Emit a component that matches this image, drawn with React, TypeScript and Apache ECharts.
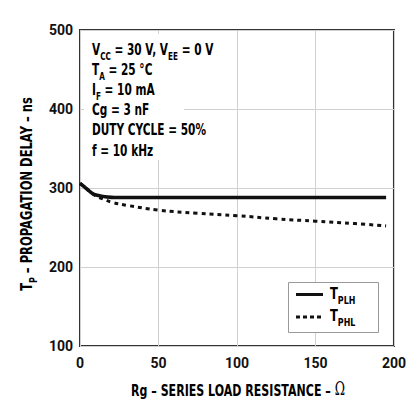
import React, { useEffect, useRef } from "react";
import * as echarts from "echarts";

const xTicks = [0, 50, 100, 150, 200];
const yTicks = [100, 200, 300, 400, 500];
const tplh: [number, number][] = [
  [0, 306], [3, 301], [6, 296], [9, 292], [13, 290], [16, 289], [22, 288], [60, 288], [120, 288], [195, 288],
];
const tphl: [number, number][] = [
  [0, 306], [3, 301], [6, 296], [10, 290], [15, 286], [20, 282], [30, 278], [50, 272], [75, 268],
  [100, 265], [125, 261], [150, 258], [175, 255], [195, 252],
];
const seriesNames = ["TPLH", "TPHL"];

const FONT = "'DejaVu Sans', 'Roboto', sans-serif";
const AXFONT = "Roboto, 'Liberation Sans', sans-serif";
const C = "#111";
const SX = 0.72;

const rich = {
  n: { fontSize: 16, fontWeight: "bold", fontFamily: FONT, color: C, lineHeight: 20, verticalAlign: "bottom" as const, padding: [0, 0, 4, 0] },
  s: { fontSize: 11, fontWeight: "bold", fontFamily: FONT, color: C, lineHeight: 12, verticalAlign: "bottom" as const },
  o: { fontSize: 18, fontFamily: "'DejaVu Serif', 'Liberation Serif', serif", color: C, lineHeight: 20, verticalAlign: "bottom" as const, padding: [0, 0, 4, 0] },
};

function rt(x: number, y: number, text: string, extra: any = {}, sx = SX) {
  return {
    type: "text",
    x,
    y,
    scaleX: sx,
    style: { text, rich, align: "left", verticalAlign: "middle", ...extra },
  };
}

export default function App() {
  const ref = useRef<HTMLDivElement>(null);
  useEffect(() => {
    const chart = echarts.init(ref.current!, null, { renderer: "svg" });
    const annot = [
      "{n|V}{s|CC}{n| = 30 V, V}{s|EE}{n| = 0 V}",
      "{n|T}{s|A}{n| = 25 °C}",
      "{n|I}{s|F}{n| = 10 mA}",
      "{n|Cg = 3 nF}",
      "{n|DUTY CYCLE = 50%}",
      "{n|f = 10 kHz}",
    ];
    const annotY = [51, 71, 91, 111, 131, 152];
    chart.setOption({
      animation: false,
      backgroundColor: "#fff",
      grid: { left: 80, top: 30, right: 11, bottom: 60, show: true, borderColor: "#333", borderWidth: 2, backgroundColor: "transparent" },
      xAxis: {
        type: "value",
        min: xTicks[0],
        max: xTicks[xTicks.length - 1],
        interval: 50,
        axisLine: { show: false },
        axisTick: { show: false },
        splitLine: { show: true, lineStyle: { color: "#d0d0d0", width: 1 } },
        axisLabel: { fontSize: 14, fontWeight: "bold", fontFamily: AXFONT, color: C, margin: 10 },
      },
      yAxis: {
        type: "value",
        min: yTicks[0],
        max: yTicks[yTicks.length - 1],
        interval: 100,
        axisLine: { show: false },
        axisTick: { show: false },
        splitLine: { show: true, lineStyle: { color: "#d0d0d0", width: 1 } },
        axisLabel: { fontSize: 14, fontWeight: "bold", fontFamily: AXFONT, color: C, margin: 7 },
      },
      series: [
        {
          name: seriesNames[0],
          type: "line",
          data: tplh,
          smooth: 0.4,
          showSymbol: false,
          symbol: "none",
          lineStyle: { color: C, width: 3.5, type: "solid" },
          z: 3,
        },
        {
          name: seriesNames[1],
          type: "line",
          data: tphl,
          smooth: 0.4,
          showSymbol: false,
          symbol: "none",
          lineStyle: { color: C, width: 3, type: [4, 4] },
          z: 2,
        },
      ],
      graphic: [
        {
          type: "rect",
          shape: { x: 84, y: 34, width: 100, height: 126 },
          style: { fill: "#fff" },
          z: 5,
        },
        {
          type: "rect",
          shape: { x: 84, y: 40, width: 136, height: 22 },
          style: { fill: "#fff" },
          z: 5,
        },
        ...annot.map((t, i) => ({ ...rt(92, annotY[i], t, {}, 0.66), z: 6 })),
        {
          type: "text",
          x: 28,
          y: 194,
          rotation: Math.PI / 2,
          scaleX: SX,
          style: { text: "{n|T}{s|P}{n| – PROPAGATION DELAY – ns}", rich, align: "center", verticalAlign: "middle" },
        },
        {
          type: "text",
          x: 238,
          y: 392,
          scaleX: 0.69,
          style: { text: "{n|Rg – SERIES LOAD RESISTANCE – }{o|Ω}", rich, align: "center", verticalAlign: "middle" },
        },
        {
          type: "rect",
          shape: { x: 288.5, y: 282.5, width: 90, height: 50 },
          style: { fill: "#fff", stroke: "#999", lineWidth: 1 },
          z: 10,
        },
        {
          type: "line",
          shape: { x1: 296, y1: 294.5, x2: 323, y2: 294.5 },
          style: { stroke: C, lineWidth: 3 },
          z: 11,
        },
        {
          type: "line",
          shape: { x1: 296, y1: 317, x2: 323, y2: 317 },
          style: { stroke: C, lineWidth: 3, lineDash: [4, 3] },
          z: 11,
        },
        { ...rt(330, 295, "{n|T}{s|PLH}"), z: 11 },
        { ...rt(330, 317, "{n|T}{s|PHL}"), z: 11 },
      ],
    });
    return () => chart.dispose();
  }, []);
  return <div ref={ref} style={{ position: "fixed", left: 0, top: 0, width: 409, height: 406 }} />;
}
